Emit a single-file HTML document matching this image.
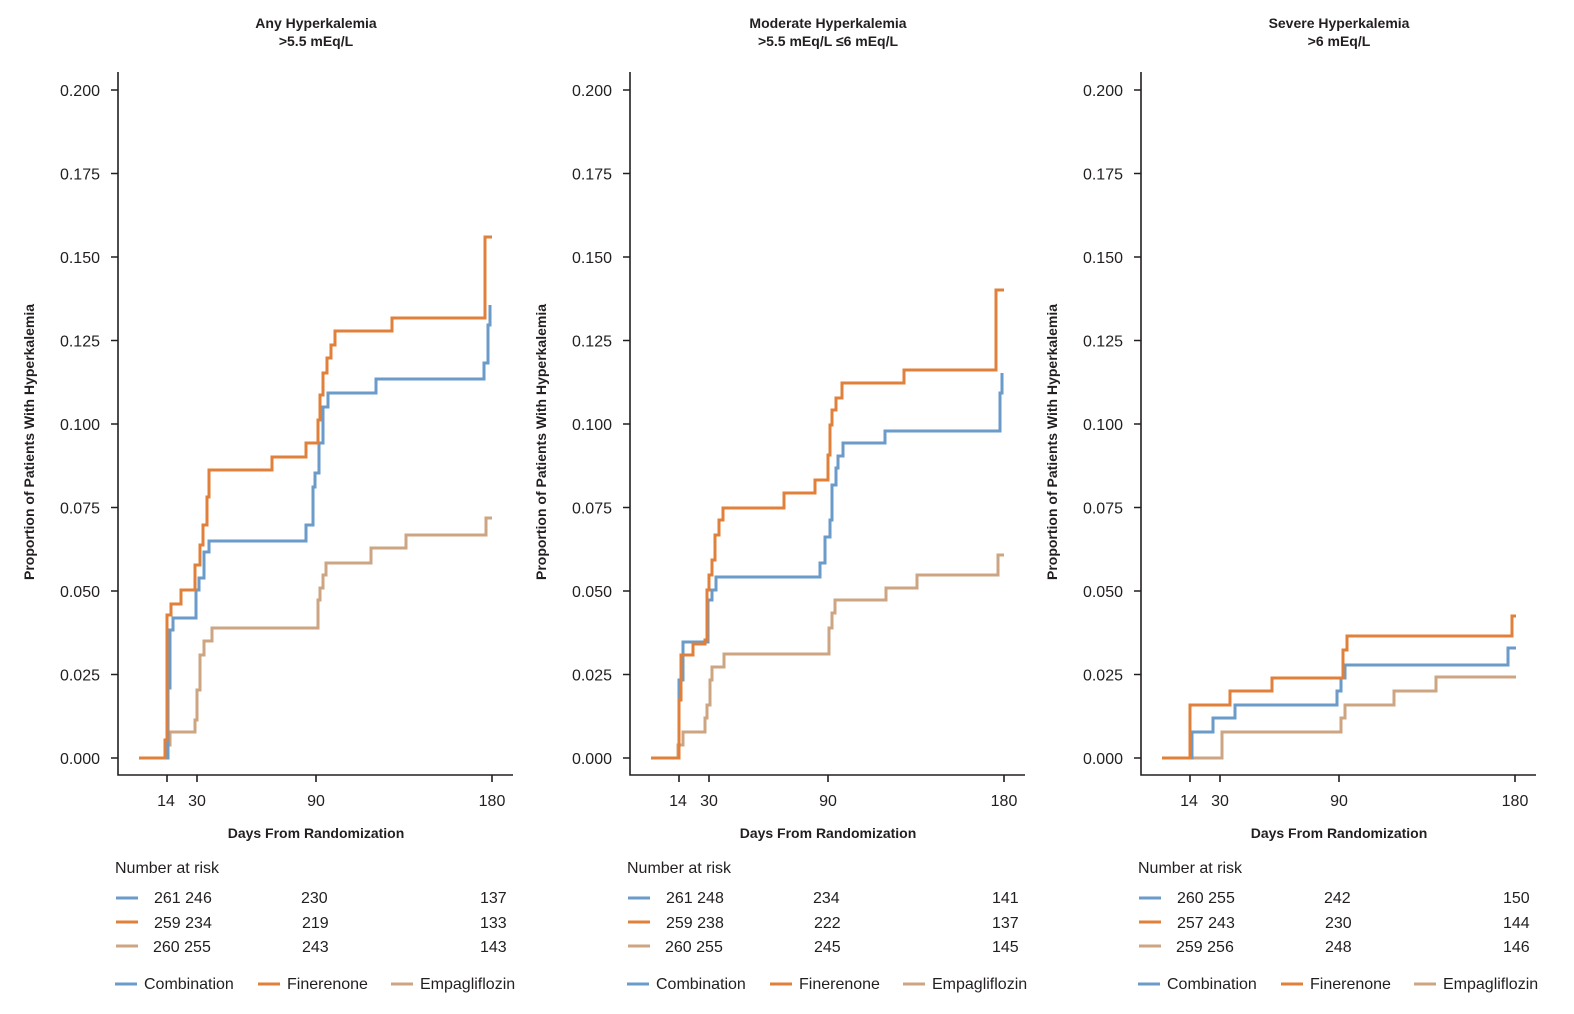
<!DOCTYPE html>
<html><head><meta charset="utf-8"><style>
html,body{margin:0;padding:0;background:#fff;overflow:hidden;width:1574px;height:1014px;}
svg{display:block;font-family:"Liberation Sans",sans-serif;}
.t{font-weight:bold;font-size:14px;fill:#231f20;text-anchor:middle;}
.tk{font-size:16px;fill:#231f20;}
.ax{stroke:#231f20;stroke-width:1.6;fill:none;}
.c{fill:none;stroke-width:3;}
.b{stroke:#6b9bc8;}.o{stroke:#e0803a;}.n{stroke:#cda583;}
</style></head><body>
<svg width="1574" height="1014" viewBox="0 0 1574 1014">
<defs>
<g id="axes">
<path class="ax" d="M118,72 V775 H513"/>
<path class="ax" d="M111,90H118M111,173.5H118M111,257H118M111,340.5H118M111,424H118M111,507.5H118M111,591H118M111,674.5H118M111,758H118"/>
<path class="ax" d="M167,775V782M197,775V782M316,775V782M492,775V782"/>
<g class="tk" text-anchor="end">
<text x="100" y="96">0.200</text><text x="100" y="179.5">0.175</text><text x="100" y="263">0.150</text><text x="100" y="346.5">0.125</text><text x="100" y="430">0.100</text><text x="100" y="513.5">0.075</text><text x="100" y="597">0.050</text><text x="100" y="680.5">0.025</text><text x="100" y="764">0.000</text>
</g>
<g class="tk" text-anchor="middle">
<text x="166" y="806">14</text><text x="197" y="806">30</text><text x="316" y="806">90</text><text x="492" y="806">180</text>
</g>
<text x="316" y="838" class="t">Days From Randomization</text>
<text x="34" y="442" class="t" transform="rotate(-90 34 442)">Proportion of Patients With Hyperkalemia</text>
<text x="115" y="873" class="tk">Number at risk</text>
<path class="c b" d="M116,898H138"/><path class="c o" d="M116,922H138"/><path class="c n" d="M116,946H138"/>
<path class="c b" d="M115,984H137"/><path class="c o" d="M258,984H280"/><path class="c n" d="M391,984H413"/>
<text x="144" y="989" class="tk">Combination</text><text x="287" y="989" class="tk">Finerenone</text><text x="420" y="989" class="tk">Empagliflozin</text>
</g>
</defs>

<g>
<use href="#axes"/>
<text x="316" y="28" class="t">Any Hyperkalemia</text><text x="316" y="46" class="t">&gt;5.5 mEq/L</text>
<g class="tk"><text x="154" y="903">261 246</text><text x="301" y="903">230</text><text x="480" y="903">137</text>
<text x="154" y="928">259 234</text><text x="302" y="928">219</text><text x="480" y="928">133</text>
<text x="153" y="952">260 255</text><text x="302" y="952">243</text><text x="480" y="952">143</text></g>
<path class="c n" d="M139,758 H166 V745 H170 V732 H195 V720 H197 V690 H200 V655 H204 V641 H212 V628 H318 V600 H320 V588 H323 V575 H326 V563 H371 V548 H406 V535 H486 V518 H492"/>
<path class="c b" d="M139,758 H168 V688 H170 V630 H173 V618 H196 V590 H199 V578 H204 V552 H209 V541 H306 V525 H313 V487 H315 V473 H319 V443 H323 V407 H328 V393 H376 V379 H484 V363 H488 V325 H490 V305"/>
<path class="c o" d="M139,758 H165 V740 H167 V615 H171 V604 H181 V590 H195 V565 H200 V545 H203 V525 H207 V497 H209 V470 H272 V457 H306 V443 H318 V420 H320 V395 H323 V373 H327 V358 H331 V345 H335 V331 H392 V318 H485 V237 H492"/>
</g>

<g transform="translate(512,0)">
<use href="#axes"/>
<text x="316" y="28" class="t">Moderate Hyperkalemia</text><text x="316" y="46" class="t">&gt;5.5 mEq/L ≤6 mEq/L</text>
<g class="tk"><text x="154" y="903">261 248</text><text x="301" y="903">234</text><text x="480" y="903">141</text>
<text x="154" y="928">259 238</text><text x="302" y="928">222</text><text x="480" y="928">137</text>
<text x="153" y="952">260 255</text><text x="302" y="952">245</text><text x="480" y="952">145</text></g>
<path class="c n" d="M139,758 H166 V745 H171 V732 H193 V718 H195 V705 H198 V680 H200 V667 H212 V654 H317 V628 H320 V613 H323 V600 H374 V588 H405 V575 H486 V555 H492"/>
<path class="c b" d="M139,758 H167 V680 H171 V642 H196 V600 H200 V590 H204 V577 H308 V563 H313 V537 H318 V520 H320 V485 H324 V468 H326 V456 H331 V443 H373 V431 H488 V393 H490 V373"/>
<path class="c o" d="M139,758 H167 V700 H169 V655 H181 V644 H193 V640 H195 V590 H197 V575 H200 V560 H203 V535 H207 V520 H211 V508 H272 V493 H303 V480 H316 V455 H318 V425 H320 V410 H324 V398 H330 V383 H392 V370 H484 V290 H492"/>
</g>

<g transform="translate(1023,0)">
<use href="#axes"/>
<text x="316" y="28" class="t">Severe Hyperkalemia</text><text x="316" y="46" class="t">&gt;6 mEq/L</text>
<g class="tk"><text x="154" y="903">260 255</text><text x="301" y="903">242</text><text x="480" y="903">150</text>
<text x="154" y="928">257 243</text><text x="302" y="928">230</text><text x="480" y="928">144</text>
<text x="153" y="952">259 256</text><text x="302" y="952">248</text><text x="480" y="952">146</text></g>
<path class="c n" d="M139,758 H199 V732 H318 V718 H322 V705 H371 V691 H413 V677 H493"/>
<path class="c b" d="M139,758 H169 V732 H190 V718 H212 V705 H314 V691 H318 V678 H322 V665 H485 V648 H493"/>
<path class="c o" d="M139,758 H167 V705 H207 V691 H249 V678 H320 V650 H324 V636 H489 V616 H493"/>
</g>
</svg>
</body></html>
